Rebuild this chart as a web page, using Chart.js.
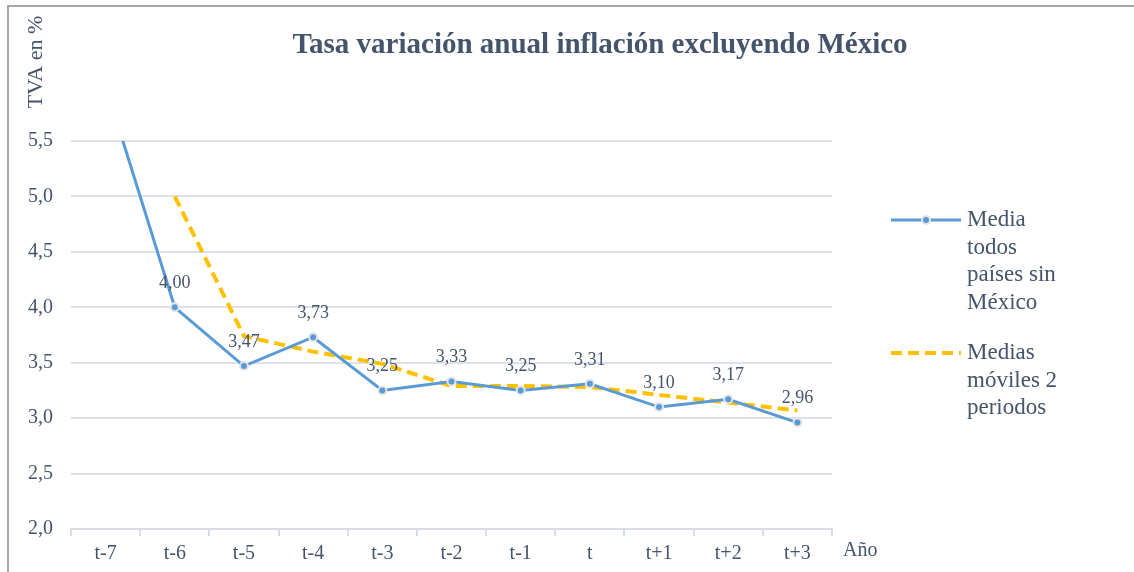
<!DOCTYPE html>
<html>
<head>
<meta charset="utf-8">
<script src="https://cdn.jsdelivr.net/npm/chart.js@4"></script>
<style>
  body { margin: 0; background: #fff; }
  #wrap { width: 1134px; height: 572px; }
</style>
</head>
<body>
<div id="wrap"><canvas id="chart" width="1134" height="572"></canvas></div>
<script>
// Data
const years = ["t-7", "t-6", "t-5", "t-4", "t-3", "t-2", "t-1", "t", "t+1", "t+2", "t+3"];
// t-7 sits above the top of the axis, value estimated
const mediaSinMexico = [6.0, 4.0, 3.47, 3.73, 3.25, 3.33, 3.25, 3.31, 3.1, 3.17, 2.96];
const mediasMoviles = [null, 5.0, 3.74, 3.6, 3.49, 3.29, 3.29, 3.28, 3.21, 3.14, 3.07];
const seriesNames = [["Media", "todos", "países sin", "México"], ["Medias", "móviles 2", "periodos"]];
const titleText = "Tasa variación anual inflación excluyendo México";
const yTitle = "TVA en %";
const xTitle = "Año";

const SERIF = "'Liberation Serif', 'Times New Roman', serif";
const TEXT = "#44546A";
const BLUE = "#5B9BD5";
const GOLD = "#FFC000";

function comma(v, d) {
  return v.toFixed(d).replace(".", ",");
}

// draws title, axis titles, frame, value labels and the legend
const extras = {
  id: "extras",
  beforeDraw(chart) {
    const c = chart.ctx;
    c.save();
    c.fillStyle = "#fff";
    c.fillRect(0, 0, chart.width, chart.height);
    c.strokeStyle = "#ABA6A8";
    c.lineWidth = 2;
    c.beginPath();
    c.moveTo(8, chart.height);
    c.lineTo(8, 6);
    c.lineTo(chart.width, 6);
    c.stroke();
    c.restore();
  },
  afterDraw(chart) {
    const c = chart.ctx;
    const area = chart.chartArea;
    c.save();
    c.fillStyle = TEXT;

    // title
    c.font = "bold 29px " + SERIF;
    c.textAlign = "center";
    c.textBaseline = "middle";
    c.fillText(titleText, 600, 46);

    // y axis title, rotated, at the top
    c.save();
    c.translate(36, 62);
    c.rotate(-Math.PI / 2);
    c.font = "22px " + SERIF;
    c.fillText(yTitle, 0, 0);
    c.restore();

    // x axis title
    c.font = "20px " + SERIF;
    c.textAlign = "left";
    c.fillText(xTitle, 843, 551);

    // value labels on the first series
    const meta = chart.getDatasetMeta(0);
    c.font = "18px " + SERIF;
    c.textAlign = "center";
    meta.data.forEach((pt, i) => {
      if (pt.y < area.top) return;
      c.fillText(comma(mediaSinMexico[i], 2), pt.x, pt.y - 24);
    });

    // legend
    const lx = 891, lw = 70, tx = 967, lh = 27.5;
    c.font = "23px " + SERIF;
    c.textAlign = "left";
    let y = 220;
    c.strokeStyle = BLUE;
    c.lineWidth = 3;
    c.beginPath();
    c.moveTo(lx, y);
    c.lineTo(lx + lw, y);
    c.stroke();
    c.beginPath();
    c.arc(lx + lw / 2, y, 4, 0, Math.PI * 2);
    c.fillStyle = BLUE;
    c.fill();
    c.strokeStyle = "#E4E4E4";
    c.lineWidth = 2;
    c.stroke();
    c.fillStyle = TEXT;
    seriesNames[0].forEach((t, k) => c.fillText(t, tx, y + k * lh));

    y = 353;
    c.strokeStyle = GOLD;
    c.lineWidth = 4;
    c.setLineDash([11, 6]);
    c.beginPath();
    c.moveTo(lx, y);
    c.lineTo(lx + lw, y);
    c.stroke();
    c.setLineDash([]);
    seriesNames[1].forEach((t, k) => c.fillText(t, tx, y + k * lh));
    c.restore();
  }
};

new Chart("chart", {
  type: "line",
  data: {
    labels: years,
    datasets: [
      {
        label: seriesNames[0].join(" "),
        data: mediaSinMexico,
        borderColor: BLUE,
        backgroundColor: BLUE,
        borderWidth: 3,
        pointRadius: 4,
        pointBorderColor: "#E4E4E4",
        pointBorderWidth: 2,
        pointBackgroundColor: BLUE,
        tension: 0,
        clip: 0,
      },
      {
        label: seriesNames[1].join(" "),
        data: mediasMoviles,
        borderColor: GOLD,
        borderWidth: 4,
        borderDash: [11, 6],
        pointRadius: 0,
        tension: 0,
        clip: 0,
      },
    ],
  },
  options: {
    responsive: false,
    animation: false,
    layout: { padding: { left: 10, right: 302, top: 141, bottom: 0 } },
    plugins: {
      legend: { display: false },
      title: { display: false },
      tooltip: { enabled: false },
    },
    scales: {
      x: {
        offset: true,
        grid: {
          offset: true,
          drawOnChartArea: false,
          drawTicks: true,
          tickLength: 7,
          color: "#D9DEE6",
          lineWidth: 2,
        },
        border: { color: "#D9DEE6", width: 2 },
        ticks: { color: TEXT, font: { family: SERIF, size: 20 }, padding: 6 },
      },
      y: {
        min: 2,
        max: 5.5,
        ticks: {
          stepSize: 0.5,
          color: TEXT,
          font: { family: SERIF, size: 20 },
          padding: 18,
          callback: (v) => comma(v, 1),
        },
        grid: { color: "#DDE2EA", lineWidth: 2, drawTicks: false },
        border: { display: false },
      },
    },
  },
  plugins: [extras],
});
</script>
</body>
</html>
